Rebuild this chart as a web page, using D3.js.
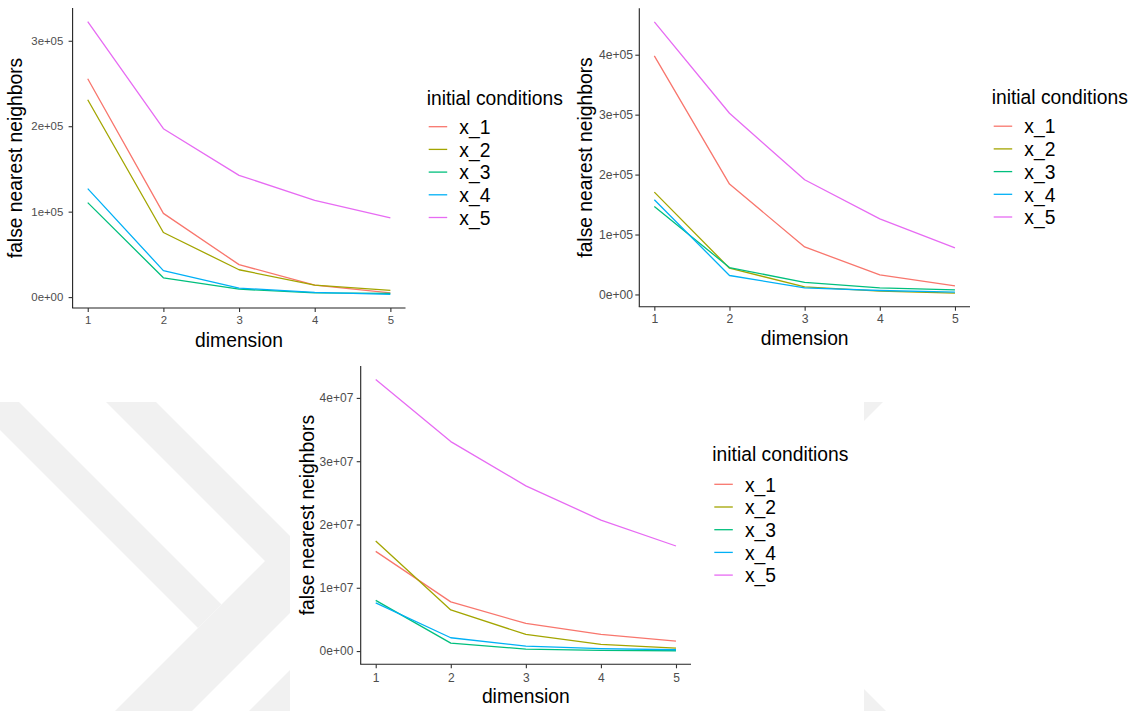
<!DOCTYPE html>
<html>
<head>
<meta charset="utf-8">
<script src="https://cdn.jsdelivr.net/npm/d3@7/dist/d3.min.js"></script>
<style>
  html, body { margin: 0; padding: 0; background: #ffffff; }
  svg { display: block; }
  text { font-family: "Liberation Sans", Arial, Helvetica, sans-serif; }
</style>
</head>
<body>
<svg id="chart" width="1137" height="711"></svg>
<script>
// Embedding dimensions on the x axis
const dimensions = [1, 2, 3, 4, 5];

// Series (initial conditions) and their colours
const seriesNames = ["x_1", "x_2", "x_3", "x_4", "x_5"];
const seriesColors = ["#F8766D", "#A3A500", "#00BF7D", "#00B0F6", "#E76BF3"];

// False nearest neighbours, first system (one row per initial condition)
const fnnFirst = [
  [255500, 98000, 38000, 14000, 5000],
  [231000, 75600, 32000, 14000, 7800],
  [110600, 22600, 9300, 5000, 4300],
  [127000, 31000, 10500, 5500, 3200],
  [322400, 197100, 142500, 113300, 92800]
];
const ticksFirst = [0, 1e5, 2e5, 3e5];
const tickLabelsFirst = ["0e+00", "1e+05", "2e+05", "3e+05"];

// Second system
const fnnSecond = [
  [398000, 184200, 79300, 32700, 14400],
  [170800, 43800, 12700, 5500, 2200],
  [146900, 44900, 20000, 11100, 7800],
  [158000, 31600, 11100, 6600, 3900],
  [454800, 302300, 191300, 126000, 77700]
];
const ticksSecond = [0, 1e5, 2e5, 3e5, 4e5];
const tickLabelsSecond = ["0e+00", "1e+05", "2e+05", "3e+05", "4e+05"];

// Third system
const fnnThird = [
  [15750000, 7770000, 4360000, 2620000, 1570000],
  [17400000, 6500000, 2620000, 1050000, 470000],
  [8000000, 1260000, 310000, 100000, 50000],
  [7600000, 2100000, 790000, 370000, 210000],
  [42900000, 33100000, 26100000, 20700000, 16600000]
];
const ticksThird = [0, 1e7, 2e7, 3e7, 4e7];
const tickLabelsThird = ["0e+00", "1e+07", "2e+07", "3e+07", "4e+07"];

const xTitle = "dimension";
const yTitle = "false nearest neighbors";
const legendTitle = "initial conditions";

const svg = d3.select("#chart");

// ---- faint background logo shapes ----
const defs = svg.append("defs");
defs.append("clipPath").attr("id", "logoClip")
  .append("rect").attr("x", 0).attr("y", 402).attr("width", 290).attr("height", 320);
const logo = svg.append("g").attr("fill", "#f1f1f1");
const logoLeft = logo.append("g").attr("clip-path", "url(#logoClip)");
const shapesLeft = [
  [[-30, 400], [17, 400], [221.5, 604.5], [198, 628]],
  [[104, 400], [154, 400], [328.5, 574.5], [183, 720], [106, 720], [265, 561]],
  [[300, 660], [300, 720], [240, 720]]
];
shapesLeft.forEach(p => logoLeft.append("polygon").attr("points", p.join(" ")));
const shapesRight = [
  [[864, 402], [883, 402], [864, 421]],
  [[864, 689], [886, 711], [864, 711]]
];
shapesRight.forEach(p => logo.append("polygon").attr("points", p.join(" ")));

// ---- panel layout ----
const panels = [
  { values: fnnFirst, ticks: ticksFirst, labels: tickLabelsFirst,
    left: 72.6, right: 405.5, top: 8, bottom: 308, tickFont: 11.4,
    yLabelGap: 9.3, xLabelBase: 323.6, xTitleBase: 347, yTitleX: 22.4,
    legendX: 426.7, legendTitleBase: 105, legendFirst: 126.7 },
  { values: fnnSecond, ticks: ticksSecond, labels: tickLabelsSecond,
    left: 639.3, right: 970, top: 8.3, bottom: 306.7, tickFont: 12.2,
    yLabelGap: 6.2, xLabelBase: 323.4, xTitleBase: 345.2, yTitleX: 592.4,
    legendX: 991.7, legendTitleBase: 103.6, legendFirst: 126.2 },
  { values: fnnThird, ticks: ticksThird, labels: tickLabelsThird,
    left: 360.7, right: 691, top: 366, bottom: 664.3, tickFont: 12,
    yLabelGap: 7.4, xLabelBase: 681.8, xTitleBase: 703, yTitleX: 314.2,
    legendX: 712.3, legendTitleBase: 461, legendFirst: 484.3 }
];

const titleSize = 19.3;
const legendStep = 22.7;

panels.forEach(p => {
  const g = svg.append("g");

  // continuous scales with 5% expansion on each side
  const xExt = d3.extent(dimensions);
  const xPad = (xExt[1] - xExt[0]) * 0.05;
  const x = d3.scaleLinear().domain([xExt[0] - xPad, xExt[1] + xPad]).range([p.left, p.right]);

  const all = p.values.flat();
  const yMin = d3.min(all), yMax = d3.max(all);
  const yPad = (yMax - yMin) * 0.05;
  const y = d3.scaleLinear().domain([yMin - yPad, yMax + yPad]).range([p.bottom, p.top]);

  // series lines
  const line = d3.line().x((d, i) => x(dimensions[i])).y(d => y(d));
  p.values.forEach((vals, k) => {
    g.append("path")
      .datum(vals)
      .attr("fill", "none")
      .attr("stroke", seriesColors[k])
      .attr("stroke-width", 1.3)
      .attr("stroke-linejoin", "round")
      .attr("d", line);
  });

  // y axis
  const yAxis = d3.axisLeft(y)
    .tickValues(p.ticks)
    .tickFormat((d, i) => p.labels[i])
    .tickSizeInner(4)
    .tickSizeOuter(0)
    .tickPadding(p.yLabelGap - 4);
  const ya = g.append("g").attr("transform", `translate(${p.left},0)`).call(yAxis);
  ya.select(".domain").attr("stroke", "#222").attr("stroke-width", 1.1)
    .attr("d", `M0,${p.top}V${p.bottom}`);
  ya.selectAll(".tick line").attr("stroke", "#333").attr("stroke-width", 1.1);
  ya.selectAll(".tick text")
    .attr("fill", "#4d4d4d")
    .style("font-size", p.tickFont + "px")
    .style("font-family", "'Liberation Sans', Arial, sans-serif");

  // x axis
  const xAxis = d3.axisBottom(x)
    .tickValues(dimensions)
    .tickFormat(d3.format("d"))
    .tickSizeInner(4)
    .tickSizeOuter(0);
  const xa = g.append("g").attr("transform", `translate(0,${p.bottom})`).call(xAxis);
  xa.select(".domain").attr("stroke", "#222").attr("stroke-width", 1.1)
    .attr("d", `M${p.left - 0.5},0H${p.right}`);
  xa.selectAll(".tick line").attr("stroke", "#333").attr("stroke-width", 1.1);
  xa.selectAll(".tick text")
    .attr("fill", "#4d4d4d")
    .attr("y", null).attr("dy", null)
    .attr("transform", `translate(0,${p.xLabelBase - p.bottom})`)
    .style("font-size", p.tickFont + "px")
    .style("font-family", "'Liberation Sans', Arial, sans-serif");

  // axis titles
  g.append("text")
    .attr("x", (p.left + p.right) / 2)
    .attr("y", p.xTitleBase)
    .attr("text-anchor", "middle")
    .attr("fill", "#000")
    .style("font-size", titleSize + "px")
    .text(xTitle);

  g.append("text")
    .attr("transform", `translate(${p.yTitleX},${(p.top + p.bottom) / 2}) rotate(-90)`)
    .attr("text-anchor", "middle")
    .attr("fill", "#000")
    .style("font-size", titleSize + "px")
    .text(yTitle);

  // legend
  const lg = g.append("g");
  lg.append("text")
    .attr("x", p.legendX)
    .attr("y", p.legendTitleBase)
    .attr("fill", "#000")
    .style("font-size", titleSize + "px")
    .text(legendTitle);
  seriesNames.forEach((name, k) => {
    const cy = p.legendFirst + k * legendStep;
    lg.append("line")
      .attr("x1", p.legendX + 2).attr("x2", p.legendX + 20.5)
      .attr("y1", cy).attr("y2", cy)
      .attr("stroke", seriesColors[k])
      .attr("stroke-width", 1.3);
    lg.append("text")
      .attr("x", p.legendX + 32.6)
      .attr("y", cy + 7.2)
      .attr("fill", "#000")
      .style("font-size", titleSize + "px")
      .text(name);
  });
});
</script>
</body>
</html>
